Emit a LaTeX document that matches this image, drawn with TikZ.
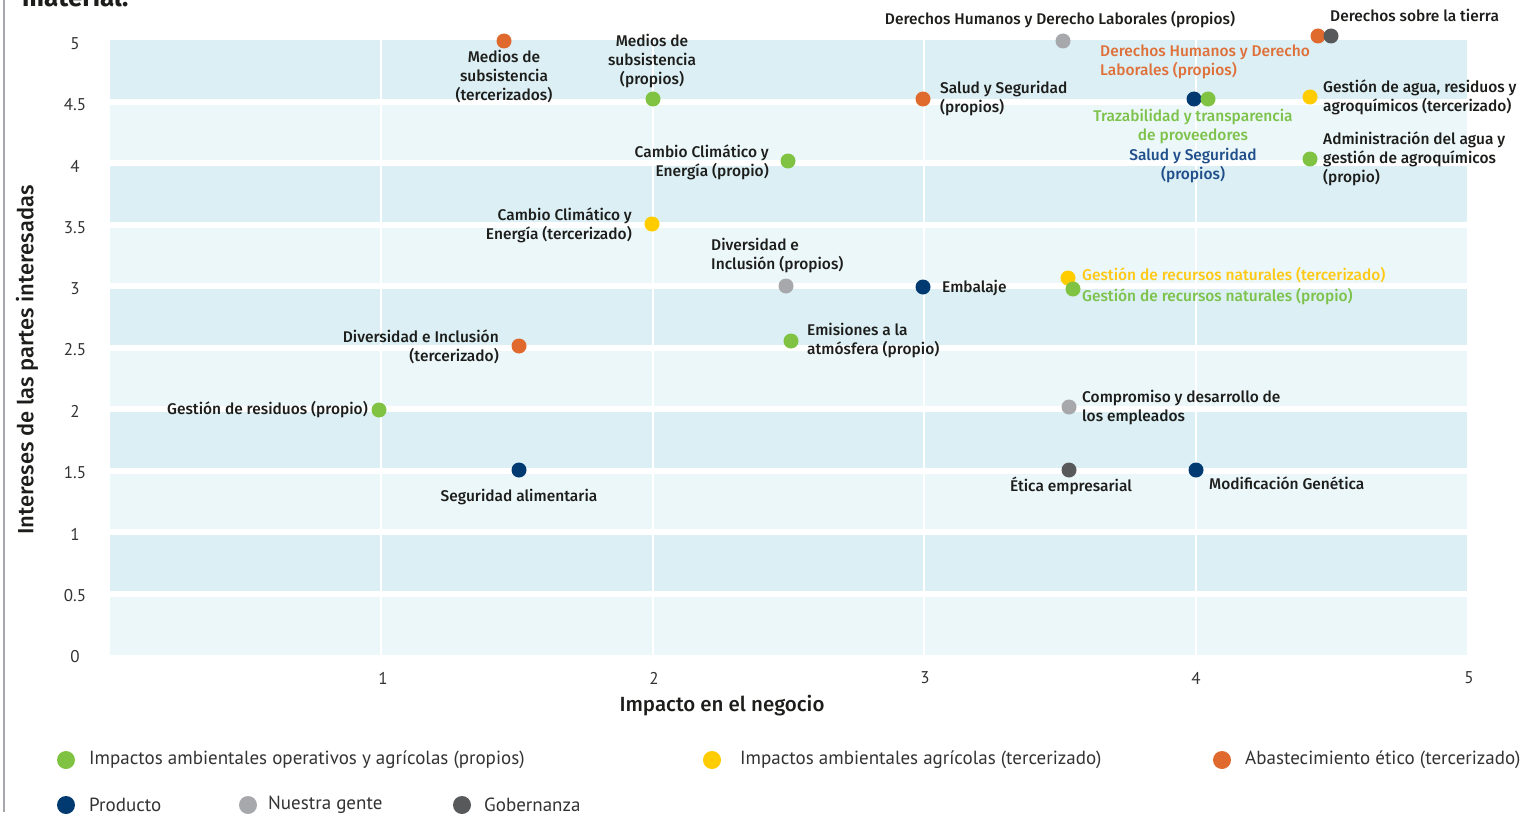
\documentclass[tikz,border=0pt]{standalone}
\usepackage{fontspec}
\setmainfont{PT Sans}
\newfontfamily\lblfont{Fira Sans Medium}
\newfontfamily\axfont{Fira Sans}
\definecolor{cgreen}{HTML}{80C342}
\definecolor{corange}{HTML}{E06A2E}
\definecolor{cyellow}{HTML}{FFCC00}
\definecolor{cnavy}{HTML}{003A70}
\definecolor{cgray}{HTML}{A7A8AC}
\definecolor{cdark}{HTML}{58595B}
\definecolor{bdark}{HTML}{DBEFF4}
\definecolor{blight}{HTML}{EBF7F9}
\definecolor{txt}{HTML}{1D1D1B}
\definecolor{tgreen}{HTML}{7DC24B}
\definecolor{torange}{HTML}{E0703A}
\definecolor{tnavy}{HTML}{1F4E8A}
\definecolor{tyellow}{HTML}{FFC914}
\definecolor{ttick}{HTML}{333333}
\begin{document}
\begin{tikzpicture}[x=1pt,y=-1pt,
  dot/.style={circle,inner sep=0pt,minimum size=15pt},
  ldot/.style={circle,inner sep=0pt,minimum size=18pt},
  lbl/.style={inner sep=0pt,text=txt,font=\lblfont\fontsize{15.5}{19}\selectfont},
  tick/.style={inner sep=0pt,text=ttick,font=\fontsize{17}{20}\selectfont},
  leg/.style={inner sep=0pt,text=ttick,anchor=west,font=\fontsize{19}{22}\selectfont},
  axt/.style={inner sep=0pt,text=txt,font=\lblfont\fontsize{20.5}{24}\selectfont}]
\useasboundingbox (0,0) rectangle (1540,816);
\fill[white] (0,0) rectangle (1540,816);
% bands
\fill[bdark] (110,40) rectangle (1467,655);
\foreach \i in {1,3,5,7,9} {
  \fill[blight] (110,{40+61.5*\i}) rectangle (1467,{40+61.5*(\i+1)});
}
\foreach \i in {1,...,9} {
  \fill[white] (110,{40+61.5*\i-3}) rectangle (1467,{40+61.5*\i+3});
}
\foreach \k in {1,2,3,4} {
  \fill[white] ({110+271.4*\k-1},40) rectangle ({110+271.4*\k+1},655);
}
% left rule
\draw[cgray,line width=2pt] (4,0) -- (4,812);
% cut title
\node[anchor=base west,inner sep=0pt,text=txt,font=\axfont\fontsize{26}{30}\selectfont\bfseries] (title) at (22,7) {material.};
% y ticks
\node[tick] (y50) at (75,44) {5};
\node[tick] (y45) at (75,105) {4.5};
\node[tick] (y40) at (75,166) {4};
\node[tick] (y35) at (75,228) {3.5};
\node[tick] (y30) at (75,289) {3};
\node[tick] (y25) at (75,350) {2.5};
\node[tick] (y20) at (75,411) {2};
\node[tick] (y15) at (75,473) {1.5};
\node[tick] (y10) at (75,534) {1};
\node[tick] (y05) at (75,596) {0.5};
\node[tick] (y00) at (75,657) {0};
% x ticks
\node[tick] (x1) at (383,678) {1};
\node[tick] (x2) at (654,678) {2};
\node[tick] (x3) at (925,678) {3};
\node[tick] (x4) at (1196,678) {4};
\node[tick] (x5) at (1469,678) {5};
% axis titles
\node[axt] (xt) at (722,706) {Impacto en el negocio};
\node[axt,rotate=90,font=\lblfont\fontsize{22}{24}\selectfont] (yt) at (27,360) {Intereses de las partes interesadas};
% dots
\node[dot,fill=corange] (d1) at (504,41) {};
\node[dot,fill=cgreen] (d2) at (653,99) {};
\node[dot,fill=cgray] (d3) at (1063,41) {};
\node[dot,fill=corange] (d4) at (1318,36) {};
\node[dot,fill=cdark] (d5) at (1331,36) {};
\node[dot,fill=corange] (d6) at (923,99) {};
\node[dot,fill=cnavy] (d7) at (1194,99) {};
\node[dot,fill=cgreen] (d8) at (1208,99) {};
\node[dot,fill=cyellow] (d9) at (1310,97) {};
\node[dot,fill=cgreen] (d10) at (1310,159) {};
\node[dot,fill=cgreen] (d11) at (788,161) {};
\node[dot,fill=cyellow] (d12) at (652,224) {};
\node[dot,fill=cgray] (d13) at (786,286) {};
\node[dot,fill=cnavy] (d14) at (923,287) {};
\node[dot,fill=cyellow] (d15) at (1068,278) {};
\node[dot,fill=cgreen] (d16) at (1073,289) {};
\node[dot,fill=corange] (d17) at (519,346) {};
\node[dot,fill=cgreen] (d18) at (791,341) {};
\node[dot,fill=cgreen] (d19) at (379,410) {};
\node[dot,fill=cgray] (d20) at (1069,407) {};
\node[dot,fill=cnavy] (d21) at (519,470) {};
\node[dot,fill=cdark] (d22) at (1069,470) {};
\node[dot,fill=cnavy] (d23) at (1196,470) {};
% labels
\node[lbl,align=center] (l1) at (504,77) {Medios de\\subsistencia\\(tercerizados)};
\node[lbl,align=center] (l2) at (652,61) {Medios de\\subsistencia\\(propios)};
\node[lbl] (l3) at (1060,20) {Derechos Humanos y Derecho Laborales (propios)};
\node[lbl,anchor=west] (l4) at (1330,15) {Derechos sobre la tierra};
\node[lbl,anchor=west,align=left,text=torange] (l5) at (1100,61.5) {Derechos Humanos y Derecho\\Laborales (propios)};
\node[lbl,anchor=west,align=left] (l6) at (940,98.5) {Salud y Seguridad\\(propios)};
\node[lbl,align=center,text=tgreen] (l7) at (1193,126.5) {Trazabilidad y transparencia\\de proveedores};
\node[lbl,align=center,text=tnavy] (l8) at (1193,165.5) {Salud y Seguridad\\(propios)};
\node[lbl,anchor=west,align=left] (l9) at (1323,97) {Gestión de agua, residuos y\\agroquímicos (tercerizado)};
\node[lbl,anchor=west,align=left] (l10) at (1323,159) {Administración del agua y\\gestión de agroquímicos\\(propio)};
\node[lbl,anchor=east,align=right] (l11) at (769,162) {Cambio Climático y\\Energía (propio)};
\node[lbl,anchor=east,align=right] (l12) at (632,225) {Cambio Climático y\\Energía (tercerizado)};
\node[lbl,anchor=west,align=left] (l13) at (711,255.5) {Diversidad e\\Inclusión (propios)};
\node[lbl,anchor=west] (l14) at (942,288) {Embalaje};
\node[lbl,anchor=west,text=tyellow] (l15) at (1082,275) {Gestión de recursos naturales (tercerizado)};
\node[lbl,anchor=west,text=tgreen] (l16) at (1082,297) {Gestión de recursos naturales (propio)};
\node[lbl,anchor=east,align=right] (l17) at (499,347) {Diversidad e Inclusión\\(tercerizado)};
\node[lbl,anchor=west,align=left] (l18) at (807,341) {Emisiones a la\\atmósfera (propio)};
\node[lbl,anchor=east] (l19) at (368,410) {Gestión de residuos (propio)};
\node[lbl,anchor=west,align=left] (l20) at (1082,407.5) {Compromiso y desarrollo de\\los empleados};
\node[lbl] (l21) at (519,497) {Seguridad alimentaria};
\node[lbl] (l22) at (1071,486) {Ética empresarial};
\node[lbl,anchor=west] (l23) at (1209,483) {Modificación Genética};
% legend
\node[ldot,fill=cgreen] (g1) at (66,760) {};
\node[leg] (gt1) at (89,760) {Impactos ambientales operativos y agrícolas (propios)};
\node[ldot,fill=cyellow] (g2) at (712,760) {};
\node[leg] (gt2) at (740,760) {Impactos ambientales agrícolas (tercerizado)};
\node[ldot,fill=corange] (g3) at (1222,760) {};
\node[leg] (gt3) at (1245,760) {Abastecimiento ético (tercerizado)};
\node[ldot,fill=cnavy] (g4) at (66,805) {};
\node[leg] (gt4) at (89,805) {Producto};
\node[ldot,fill=cgray] (g5) at (248,805) {};
\node[leg] (gt5) at (268,805) {Nuestra gente};
\node[ldot,fill=cdark] (g6) at (462,805) {};
\node[leg] (gt6) at (484,805) {Gobernanza};
\end{tikzpicture}
\end{document}
